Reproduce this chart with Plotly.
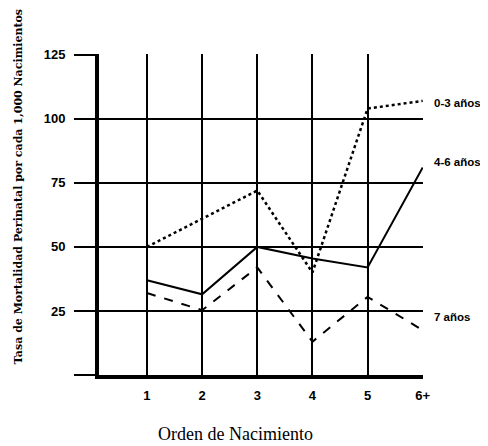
import plotly.graph_objects as go

categories = [1, 2, 3, 4, 5, 6]
tick_labels = ["1", "2", "3", "4", "5", "6+"]
y_ticks = [0, 25, 50, 75, 100, 125]
y_tick_labels = ["", "25", "50", "75", "100", "125"]

edad_0_3 = [50, 61, 72, 40, 104, 107]
edad_4_6 = [37, 31.5, 50, 45.5, 42, 81]
edad_7 = [32, 25.3, 42, 13, 30.5, 17.5]

series_names = ["0-3 años", "4-6 años", "7 años"]

fig = go.Figure()
fig.add_trace(go.Scatter(x=categories, y=edad_0_3, mode="lines", name=series_names[0],
                         line=dict(color="black", width=2.5, dash="dot")))
fig.add_trace(go.Scatter(x=categories, y=edad_4_6, mode="lines", name=series_names[1],
                         line=dict(color="black", width=2)))
fig.add_trace(go.Scatter(x=categories, y=edad_7, mode="lines", name=series_names[2],
                         line=dict(color="black", width=2, dash="dash")))

label_y = [edad_0_3[-1] - 0.7, edad_4_6[-1] + 2, edad_7[-1] + 5]
for name, yv in zip(series_names, label_y):
    fig.add_annotation(x=1.028, xref="paper", y=yv, yref="y", text=name, showarrow=False,
                       xanchor="left", font=dict(family="Liberation Sans, Arial", size=11.5,
                                                  color="black", weight="bold"))

fig.add_annotation(x=-0.272, xref="paper", y=0.586, yref="paper", textangle=-90,
                   text="Tasa de Mortalidad Perinatal por cada 1,000 Nacimientos", showarrow=False,
                   font=dict(family="DejaVu Serif", size=11, color="black", weight="bold"))

fig.add_annotation(x=0.42, xref="paper", y=-0.185, yref="paper", yanchor="middle",
                   text="Orden de Nacimiento", showarrow=False,
                   font=dict(family="Liberation Serif, Times New Roman", size=18, color="black"))

fig.update_layout(
    width=488, height=446,
    margin=dict(l=91, r=73, t=46, b=79),
    paper_bgcolor="white", plot_bgcolor="white",
    showlegend=False,
    xaxis=dict(range=[0.13, 6.005], tickvals=categories, ticktext=tick_labels,
               showgrid=True, gridcolor="black", gridwidth=1.5,
               showline=True, linecolor="black", linewidth=4,
               ticks="outside", tickcolor="rgba(0,0,0,0)", ticklen=5,
               tickfont=dict(family="Liberation Sans, Arial", size=13, color="black", weight="bold"),
               zeroline=False),
    yaxis=dict(range=[0, 125.3], tickvals=y_ticks, ticktext=y_tick_labels,
               showgrid=True, gridcolor="black", gridwidth=1.5,
               showline=True, linecolor="black", linewidth=4,
               ticks="outside", tickcolor="black", ticklen=21, tickwidth=1.5,
               ticklabelstandoff=6,
               tickfont=dict(family="Liberation Sans, Arial", size=13, color="black", weight="bold"),
               zeroline=False),
)

fig.write_html("out.html")
